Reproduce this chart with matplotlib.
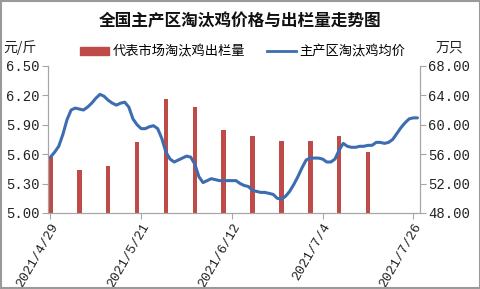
import numpy as np
import pandas as pd
import matplotlib
matplotlib.use('Agg')
import matplotlib.pyplot as plt
from matplotlib.patches import Patch, Rectangle
from matplotlib.lines import Line2D

plt.rcParams['font.family'] = ['Noto Sans CJK SC', 'DejaVu Sans']

# daily average price, 2021/4/29 onwards (yuan / jin)
start = pd.Timestamp('2021-04-29')
price = [5.57, 5.62, 5.68, 5.80, 5.95, 6.05, 6.07, 6.06, 6.05, 6.08,
         6.12, 6.17, 6.21, 6.19, 6.15, 6.12, 6.10, 6.12, 6.13, 6.08,
         5.96, 5.90, 5.86, 5.86, 5.88, 5.89, 5.86, 5.76, 5.62, 5.55,
         5.52, 5.54, 5.56, 5.58, 5.57, 5.50, 5.37, 5.31, 5.33, 5.35,
         5.34, 5.33, 5.33, 5.33, 5.33, 5.33, 5.30, 5.28, 5.27, 5.23,
         5.22, 5.21, 5.21, 5.20, 5.19, 5.15, 5.14, 5.17, 5.22, 5.29,
         5.37, 5.46, 5.54, 5.56, 5.56, 5.56, 5.55, 5.52, 5.52, 5.55,
         5.64, 5.71, 5.68, 5.67, 5.67, 5.68, 5.68, 5.69, 5.69, 5.72,
         5.72, 5.71, 5.72, 5.75, 5.81, 5.87, 5.92, 5.96, 5.97, 5.97]

# weekly slaughter volume (10k birds)
bar_dates = ['2021-04-29', '2021-05-06', '2021-05-13', '2021-05-20',
             '2021-05-27', '2021-06-03', '2021-06-10', '2021-06-17',
             '2021-06-24', '2021-07-01', '2021-07-08', '2021-07-15']
volume = [55.6, 53.9, 54.4, 57.7, 63.5, 62.4, 59.3, 58.5, 57.8, 57.8, 58.5, 56.3]

tick_labels = ['2021/4/29', '2021/5/21', '2021/6/12', '2021/7/4', '2021/7/26']
left_ticks = [5.00, 5.30, 5.60, 5.90, 6.20, 6.50]
right_ticks = [48.0, 52.0, 56.0, 60.0, 64.0, 68.0]

price_days = np.arange(len(price))
bar_days = [(pd.Timestamp(d) - start).days for d in bar_dates]
tick_days = [(pd.Timestamp(t.replace('/', '-')) - start).days for t in tick_labels]

red = '#BE4B48'
blue = '#3D6DB0'
gray = '#A6A6A6'
numfont = 'Liberation Mono'

fig = plt.figure(figsize=(4.81, 2.89), dpi=100)
ax = fig.add_axes([0.0998, 0.263, 0.7732, 0.509])
ax2 = ax.twinx()

ax2.bar(bar_days, volume, width=1.1, color=red, zorder=2)
ax.plot(price_days, price, color=blue, lw=2.2, zorder=3, solid_capstyle='round')
ax.set_zorder(ax2.get_zorder() + 1)
ax.patch.set_visible(False)

ax.set_xlim(-0.6, 89.6)
ax.set_ylim(5.0, 6.5)
ax2.set_ylim(48, 68)
ax.set_yticks(left_ticks)
ax.set_yticklabels(['%.2f' % v for v in left_ticks], family=numfont, fontsize=10)
ax2.set_yticks(right_ticks)
ax2.set_yticklabels(['%.2f' % v for v in right_ticks], family=numfont, fontsize=10)
ax.set_xticks(tick_days)
ax.set_xticklabels(tick_labels, rotation=60, ha='right', va='top',
                   rotation_mode='anchor', family=numfont, fontsize=9.5)

for a in (ax, ax2):
    a.spines['top'].set_visible(False)
    for s in ('left', 'right', 'bottom'):
        a.spines[s].set_color(gray)
    a.tick_params(colors=gray, labelcolor='#222222', length=4, width=0.8)
ax.tick_params(axis='y', pad=2)
ax2.tick_params(axis='y', pad=2)
ax.tick_params(axis='x', pad=2)

fig.text(0.5, 0.925, '全国主产区淘汰鸡价格与出栏量走势图', ha='center', va='center',
         fontsize=12, fontweight='bold', color='#111111')
fig.text(0.042, 0.835, '元/斤', ha='center', va='center', fontsize=10, color='#222222')
fig.text(0.935, 0.835, '万只', ha='center', va='center', fontsize=10, color='#222222')

handles = [Patch(color=red), Line2D([], [], color=blue, lw=2)]
fig.legend(handles, ['代表市场淘汰鸡出栏量', '主产区淘汰鸡均价'], loc='center',
           bbox_to_anchor=(0.505, 0.82), ncol=2, frameon=False, fontsize=9.5,
           handlelength=2.2, handleheight=0.6, columnspacing=1.6, handletextpad=0.3)

fig.patches.append(Rectangle((0.002, 0.003), 0.996, 0.994, transform=fig.transFigure,
                             fill=False, edgecolor='#9A9A9A', lw=1.5))

fig.savefig('out.png', dpi=100, facecolor='white')
